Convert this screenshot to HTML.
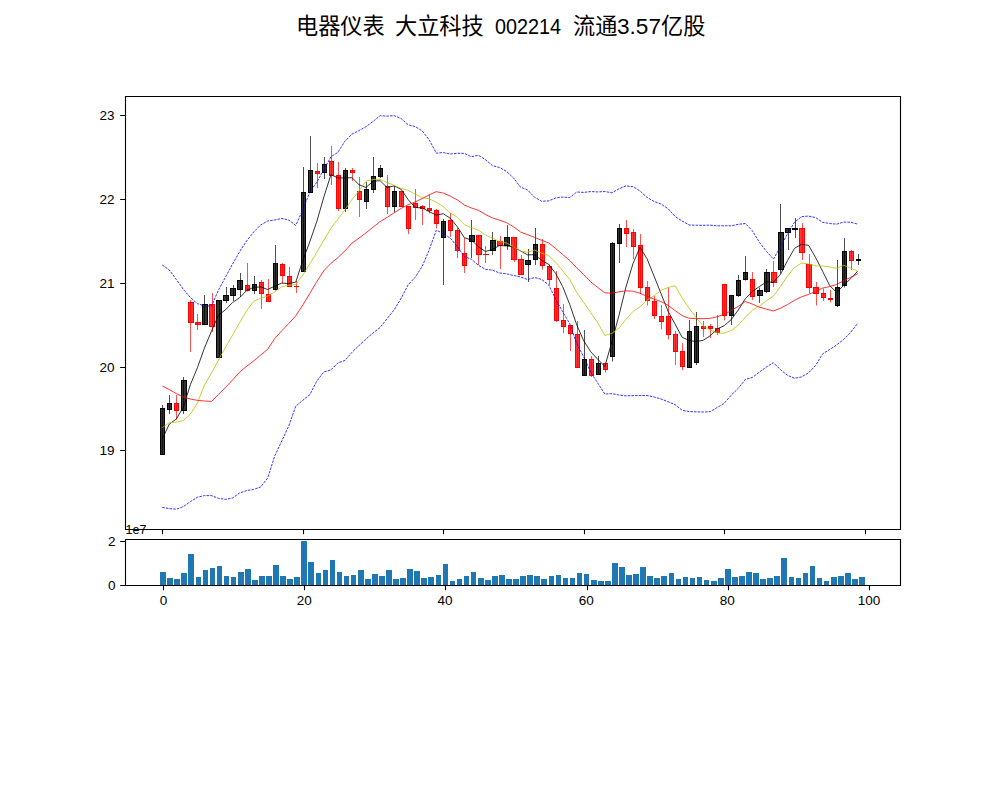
<!DOCTYPE html>
<html><head><meta charset="utf-8"><title>chart</title>
<style>html,body{margin:0;padding:0;background:#fff;font-family:"Liberation Sans",sans-serif}svg{display:block}</style></head><body>
<svg width="1000" height="800" viewBox="0 0 1000 800">
<rect width="1000" height="800" fill="#fff"/>
<g font-family="&quot;Liberation Sans&quot;, &quot;Noto Sans CJK SC&quot;, sans-serif" font-size="22.2" fill="#000">
<text x="296" y="33.9">电器仪表</text>
<text x="395" y="33.9">大立科技</text>
<text x="495" y="33.9" textLength="66" lengthAdjust="spacingAndGlyphs">002214</text>
<text x="573" y="33.9">流通</text>
<text x="617" y="33.9" textLength="44" lengthAdjust="spacingAndGlyphs">3.57</text>
<text x="661" y="33.9">亿股</text>
</g>
<clipPath id="c1"><rect x="125.5" y="96.5" width="775" height="433"/></clipPath>
<g clip-path="url(#c1)">
<g fill-opacity="0.8" stroke-width="1.0"><rect x="160.5" y="408.5" width="4" height="46" fill="#000" stroke="#000"/><rect x="167.5" y="403.5" width="4" height="6" fill="#000" stroke="#000"/><rect x="174.5" y="403.5" width="4" height="7" fill="#f00" stroke="#f00"/><rect x="181.5" y="380.5" width="5" height="30" fill="#000" stroke="#000"/><rect x="188.5" y="302.5" width="5" height="20" fill="#f00" stroke="#f00"/><rect x="195.5" y="322.5" width="5" height="2" fill="#f00" stroke="#f00"/><rect x="202.5" y="304.5" width="5" height="20" fill="#000" stroke="#000"/><rect x="209.5" y="304.5" width="5" height="22" fill="#f00" stroke="#f00"/><rect x="216.5" y="300.5" width="5" height="57" fill="#000" stroke="#000"/><rect x="223.5" y="295.5" width="5" height="5" fill="#000" stroke="#000"/><rect x="230.5" y="288.5" width="5" height="7" fill="#000" stroke="#000"/><rect x="237.5" y="280.5" width="5" height="9" fill="#000" stroke="#000"/><rect x="245.5" y="285.5" width="4" height="5" fill="#f00" stroke="#f00"/><rect x="252.5" y="284.5" width="4" height="6" fill="#000" stroke="#000"/><rect x="259.5" y="282.5" width="4" height="11" fill="#f00" stroke="#f00"/><rect x="266.5" y="294.5" width="4" height="7" fill="#f00" stroke="#f00"/><rect x="273.5" y="263.5" width="4" height="26" fill="#000" stroke="#000"/><rect x="280.5" y="264.5" width="4" height="11" fill="#f00" stroke="#f00"/><rect x="287.5" y="276.5" width="4" height="10" fill="#f00" stroke="#f00"/><rect x="294.5" y="286.5" width="4" height="0.02" fill="#f00" stroke="#f00"/><rect x="301.5" y="192.5" width="4" height="79" fill="#000" stroke="#000"/><rect x="308.5" y="170.5" width="4" height="22" fill="#000" stroke="#000"/><rect x="315.5" y="171.5" width="4" height="2" fill="#f00" stroke="#f00"/><rect x="322.5" y="164.5" width="4" height="8" fill="#000" stroke="#000"/><rect x="329.5" y="161.5" width="4" height="14" fill="#f00" stroke="#f00"/><rect x="336.5" y="175.5" width="4" height="33" fill="#f00" stroke="#f00"/><rect x="343.5" y="170.5" width="4" height="38" fill="#000" stroke="#000"/><rect x="350.5" y="170.5" width="4" height="2" fill="#f00" stroke="#f00"/><rect x="357.5" y="191.5" width="4" height="8" fill="#f00" stroke="#f00"/><rect x="364.5" y="189.5" width="4" height="12" fill="#000" stroke="#000"/><rect x="371.5" y="176.5" width="4" height="13" fill="#000" stroke="#000"/><rect x="378.5" y="168.5" width="4" height="8" fill="#000" stroke="#000"/><rect x="385.5" y="186.5" width="4" height="20" fill="#f00" stroke="#f00"/><rect x="392.5" y="191.5" width="4" height="15" fill="#000" stroke="#000"/><rect x="399.5" y="191.5" width="4" height="15" fill="#f00" stroke="#f00"/><rect x="406.5" y="206.5" width="4" height="22" fill="#f00" stroke="#f00"/><rect x="413.5" y="203.5" width="4" height="4" fill="#f00" stroke="#f00"/><rect x="420.5" y="206.5" width="4" height="2" fill="#f00" stroke="#f00"/><rect x="427.5" y="208.5" width="4" height="2" fill="#f00" stroke="#f00"/><rect x="434.5" y="210.5" width="4" height="13" fill="#f00" stroke="#f00"/><rect x="441.5" y="221.5" width="4" height="16" fill="#000" stroke="#000"/><rect x="448.5" y="220.5" width="4" height="10" fill="#f00" stroke="#f00"/><rect x="455.5" y="230.5" width="4" height="20" fill="#f00" stroke="#f00"/><rect x="462.5" y="253.5" width="4" height="12" fill="#f00" stroke="#f00"/><rect x="469.5" y="235.5" width="5" height="6" fill="#000" stroke="#000"/><rect x="476.5" y="235.5" width="5" height="19" fill="#f00" stroke="#f00"/><rect x="483.5" y="254.5" width="5" height="0.02" fill="#f00" stroke="#f00"/><rect x="490.5" y="240.5" width="5" height="10" fill="#000" stroke="#000"/><rect x="497.5" y="241.5" width="5" height="4" fill="#f00" stroke="#f00"/><rect x="504.5" y="237.5" width="5" height="8" fill="#000" stroke="#000"/><rect x="511.5" y="237.5" width="5" height="22" fill="#f00" stroke="#f00"/><rect x="518.5" y="259.5" width="5" height="15" fill="#f00" stroke="#f00"/><rect x="525.5" y="260.5" width="5" height="4" fill="#000" stroke="#000"/><rect x="533.5" y="244.5" width="4" height="15" fill="#000" stroke="#000"/><rect x="540.5" y="244.5" width="4" height="21" fill="#f00" stroke="#f00"/><rect x="547.5" y="266.5" width="4" height="13" fill="#f00" stroke="#f00"/><rect x="554.5" y="288.5" width="4" height="32" fill="#f00" stroke="#f00"/><rect x="561.5" y="320.5" width="4" height="6" fill="#f00" stroke="#f00"/><rect x="568.5" y="325.5" width="4" height="8" fill="#f00" stroke="#f00"/><rect x="575.5" y="334.5" width="4" height="33" fill="#f00" stroke="#f00"/><rect x="582.5" y="359.5" width="4" height="16" fill="#000" stroke="#000"/><rect x="589.5" y="359.5" width="4" height="16" fill="#f00" stroke="#f00"/><rect x="596.5" y="363.5" width="4" height="11" fill="#000" stroke="#000"/><rect x="603.5" y="363.5" width="4" height="6" fill="#f00" stroke="#f00"/><rect x="610.5" y="243.5" width="4" height="113" fill="#000" stroke="#000"/><rect x="617.5" y="228.5" width="4" height="15" fill="#000" stroke="#000"/><rect x="624.5" y="228.5" width="4" height="5" fill="#f00" stroke="#f00"/><rect x="631.5" y="232.5" width="4" height="14" fill="#f00" stroke="#f00"/><rect x="638.5" y="245.5" width="4" height="42" fill="#f00" stroke="#f00"/><rect x="645.5" y="287.5" width="4" height="13" fill="#f00" stroke="#f00"/><rect x="652.5" y="301.5" width="4" height="14" fill="#f00" stroke="#f00"/><rect x="659.5" y="316.5" width="4" height="5" fill="#f00" stroke="#f00"/><rect x="666.5" y="316.5" width="4" height="18" fill="#f00" stroke="#f00"/><rect x="673.5" y="334.5" width="4" height="17" fill="#f00" stroke="#f00"/><rect x="680.5" y="351.5" width="4" height="15" fill="#f00" stroke="#f00"/><rect x="687.5" y="331.5" width="4" height="36" fill="#000" stroke="#000"/><rect x="694.5" y="326.5" width="4" height="36" fill="#000" stroke="#000"/><rect x="701.5" y="326.5" width="4" height="2" fill="#f00" stroke="#f00"/><rect x="708.5" y="326.5" width="4" height="2" fill="#f00" stroke="#f00"/><rect x="715.5" y="328.5" width="4" height="4" fill="#f00" stroke="#f00"/><rect x="722.5" y="284.5" width="4" height="31" fill="#f00" stroke="#f00"/><rect x="729.5" y="295.5" width="4" height="20" fill="#000" stroke="#000"/><rect x="736.5" y="280.5" width="4" height="15" fill="#000" stroke="#000"/><rect x="743.5" y="272.5" width="4" height="7" fill="#000" stroke="#000"/><rect x="750.5" y="279.5" width="4" height="17" fill="#f00" stroke="#f00"/><rect x="757.5" y="290.5" width="5" height="5" fill="#000" stroke="#000"/><rect x="764.5" y="272.5" width="5" height="19" fill="#000" stroke="#000"/><rect x="771.5" y="272.5" width="5" height="10" fill="#f00" stroke="#f00"/><rect x="778.5" y="232.5" width="5" height="37" fill="#000" stroke="#000"/><rect x="785.5" y="228.5" width="5" height="4" fill="#000" stroke="#000"/><rect x="792.5" y="228.5" width="5" height="1" fill="#000" stroke="#000"/><rect x="799.5" y="228.5" width="5" height="24" fill="#f00" stroke="#f00"/><rect x="806.5" y="264.5" width="5" height="23" fill="#f00" stroke="#f00"/><rect x="813.5" y="287.5" width="5" height="6" fill="#f00" stroke="#f00"/><rect x="821.5" y="293.5" width="4" height="4" fill="#f00" stroke="#f00"/><rect x="828.5" y="298.5" width="4" height="1" fill="#f00" stroke="#f00"/><rect x="835.5" y="287.5" width="4" height="18" fill="#000" stroke="#000"/><rect x="842.5" y="251.5" width="4" height="34" fill="#000" stroke="#000"/><rect x="849.5" y="251.5" width="4" height="9" fill="#f00" stroke="#f00"/><rect x="856.5" y="259.5" width="4" height="1" fill="#000" stroke="#000"/></g>
<path d="M162.5 405V455M169.5 395V414M183.5 377V414M204.5 295V325M219.5 300V357.5M226.5 287V303M233.5 285V301M240.5 273V297M254.5 276V294M275.5 245V290.5M303.5 167V272M310.5 136V193M324.5 157V179M345.5 168V212M366.5 182V209M373.5 157V193M380.5 165V178M394.5 186V212M443.5 219V285M471.5 220V258M492.5 232V255M507.5 225V250M528.5 249V282M535.5 228V265M584.5 330V375.5M598.5 356V374.5M612.5 242V361.5M619.5 224V263M689.5 320V367.5M696.5 312V365M731.5 295V325M738.5 275V297M745.5 256V280.5M759.5 287.5V303M766.5 269V293M780.5 204V273.5M788.5 228V250M795.5 218V238M837.5 260V307M844.5 238V287.5M858.5 254V265" stroke="#000" stroke-width="0.69" fill="none"/>
<path d="M176.5 395V419.5M190.5 300V352M197.5 314V330M212.5 293V332M247.5 263V291.5M261.5 280V309M268.5 279V301.5M282.5 263V283.5M289.5 267V286.5M296.5 281V293M317.5 163V188M331.5 146V185M338.5 162V211M352.5 168V181M359.5 177V217M387.5 175V214M401.5 191V207M408.5 206V234M415.5 189V220M422.5 205V225M429.5 194.5V213.5M436.5 209V228.5M450.5 213V237M457.5 228V258M464.5 238V273M478.5 235V265M485.5 246V263M500.5 236V269M514.5 237V262M521.5 255V274.5M542.5 239V269.5M549.5 264.5V285M556.5 271V322M563.5 304V333M570.5 325V351M577.5 321V367.5M591.5 356V377M605.5 362.5V372.5M626.5 220V247M633.5 229V259M640.5 234V294M647.5 281V305.5M654.5 296V319M661.5 305V329.5M668.5 287.5V339.5M675.5 331V365M682.5 343V370M703.5 321V337M710.5 324V338M717.5 315V335M724.5 284V320.5M752.5 272V300M773.5 261V287M802.5 223V260M809.5 254V293.5M816.5 282V305.5M823.5 288.5V301M830.5 290V302.5M851.5 250V270" stroke="#f00" stroke-width="0.69" fill="none"/>
<g fill="none" stroke-linejoin="round">
<path d="M162.33 439L169.35 424L176.38 419L183.4 407L190.43 384.5L197.45 367.7L204.48 347.9L211.5 331.1L218.53 315.1L225.55 309.7L232.57 302.5L239.6 297.7L246.62 290.5L253.65 287.3L260.67 286.9L267.7 289.5L274.72 286.1L281.74 283.1L288.77 283.5L295.79 282.1L302.82 260.3L309.84 241.7L316.87 221.3L323.89 196.9L330.92 174.7L337.94 177.9L344.96 177.9L351.99 177.7L359.01 184.7L366.04 187.5L373.06 181.1L380.09 180.7L387.11 187.5L394.14 185.9L401.16 189.3L408.18 199.7L415.21 207.5L422.23 207.9L429.26 211.7L436.28 215.1L443.31 213.7L450.33 218.3L457.35 226.7L464.38 237.7L471.4 240.1L478.43 246.7L485.45 251.5L492.48 249.5L499.5 245.5L506.53 245.9L513.55 246.9L520.57 250.9L527.6 254.9L534.62 254.7L541.65 260.3L548.67 264.3L555.7 273.5L562.72 286.7L569.75 304.5L576.77 324.9L583.79 340.9L590.82 351.9L597.84 359.3L604.87 366.5L611.89 341.7L618.92 315.5L625.94 287.1L632.96 263.7L639.99 247.3L647.01 258.7L654.04 276.1L661.06 293.7L668.09 311.3L675.11 324.1L682.14 337.3L689.16 340.5L696.18 341.5L703.21 340.3L710.23 335.7L717.26 328.9L724.28 325.7L731.31 319.5L738.33 309.9L745.36 298.7L752.38 291.5L759.4 286.5L766.43 281.9L773.45 282.3L780.48 274.3L787.5 260.7L794.53 248.3L801.55 244.3L808.57 245.3L815.6 257.5L822.62 271.3L829.65 285.5L836.67 292.5L843.7 285.3L850.72 278.7L857.75 271.1" stroke="#000" stroke-width="0.8"/>
<path d="M162.33 427.6L169.35 422.6L176.38 422.2L183.4 420.6L190.43 414L197.45 403L204.48 385L211.5 373L218.53 360L225.55 347.1L232.57 335.1L239.6 322.8L246.62 310.8L253.65 301.2L260.67 298.3L267.7 296L274.72 291.9L281.74 286.8L288.77 285.4L295.79 284.5L302.82 274.9L309.84 263.9L316.87 252.2L323.89 240.2L330.92 228.4L337.94 219.1L344.96 209.8L351.99 199.5L359.01 190.8L366.04 181.1L373.06 179.5L380.09 179.3L387.11 182.6L394.14 185.3L401.16 188.4L408.18 190.4L415.21 194.1L422.23 197.7L429.26 198.8L436.28 202.2L443.31 206.7L450.33 212.9L457.35 217.3L464.38 224.7L471.4 227.6L478.43 230.2L485.45 234.9L492.48 238.1L499.5 241.6L506.53 243L513.55 246.8L520.57 251.2L527.6 252.2L534.62 250.1L541.65 253.1L548.67 255.6L555.7 262.2L562.72 270.8L569.75 279.6L576.77 292.6L583.79 302.6L590.82 312.7L597.84 323L604.87 335.5L611.89 333.3L618.92 328.2L625.94 319.5L632.96 311.5L639.99 306.9L647.01 300.2L654.04 295.8L661.06 290.4L668.09 287.5L675.11 285.7L682.14 298L689.16 308.3L696.18 317.6L703.21 325.8L710.23 329.9L717.26 333.1L724.28 333.1L731.31 330.5L738.33 325.1L745.36 317.2L752.38 310.2L759.4 306.1L766.43 300.7L773.45 296.1L780.48 286.5L787.5 276.1L794.53 267.4L801.55 263.1L808.57 263.8L815.6 265.9L822.62 266L829.65 266.9L836.67 268.4L843.7 265.3L850.72 268.1L857.75 271.2" stroke="#bfbf00" stroke-width="0.8"/>
<path d="M162.33 386L169.35 389.6L176.38 393.6L183.4 397L190.43 399L197.45 400.4L204.48 401L211.5 401.4L218.53 394.4L225.55 387.3L232.57 380L239.6 372.1L246.62 366.3L253.65 361L260.67 355L267.7 349.3L274.72 338.5L281.74 330.8L288.77 323.5L295.79 315.8L302.82 305L309.84 293.35L316.87 281.5L323.89 270.7L330.92 263.35L337.94 257.55L344.96 250.85L351.99 243.15L359.01 238.1L366.04 232.8L373.06 227.2L380.09 221.6L387.11 217.4L394.14 212.75L401.16 208.4L408.18 204.75L415.21 201.95L422.23 198.6L429.26 194.8L436.28 191.65L443.31 193.1L450.33 196.1L457.35 199.95L464.38 205L471.4 208L478.43 210.3L485.45 214.5L492.48 217.9L499.5 220.2L506.53 222.6L513.55 226.75L520.57 232.05L527.6 234.75L534.62 237.4L541.65 240.35L548.67 242.9L555.7 248.55L562.72 254.45L569.75 260.6L576.77 267.8L583.79 274.7L590.82 281.95L597.84 287.6L604.87 292.8L611.89 293.2L618.92 291.9L625.94 290.85L632.96 291.15L639.99 293.25L647.01 296.4L654.04 299.2L661.06 301.55L668.09 305.25L675.11 310.6L682.14 315.65L689.16 318.25L696.18 318.55L703.21 318.65L710.23 318.4L717.26 316.65L724.28 314.45L731.31 310.45L738.33 306.3L745.36 301.45L752.38 304.1L759.4 307.2L766.43 309.15L773.45 310.95L780.48 308.2L787.5 304.6L794.53 300.25L801.55 296.8L808.57 294.45L815.6 291.55L822.62 288.1L829.65 286.5L836.67 284.55L843.7 280.7L850.72 277.3L857.75 273.65" stroke="#f00" stroke-width="0.8"/>
<path d="M162.33 265L169.35 270L176.38 279.6L183.4 289.4L190.43 297.6L197.45 303.6L204.48 306L211.5 306L218.53 290L225.55 277L232.57 264L239.6 251.6L246.62 241L253.65 232L260.67 225L267.7 221L274.72 220L281.74 218.4L288.77 220L295.79 225.43L302.82 209.75L309.84 192.04L316.87 182.07L323.89 169.46L330.92 156.84L337.94 152.23L344.96 141.22L351.99 134.05L359.01 130.64L366.04 126.62L373.06 121.42L380.09 115.71L387.11 116.12L394.14 115.66L401.16 118.53L408.18 124.83L415.21 126.58L422.23 130.94L429.26 139.83L436.28 153.17L443.31 152.57L450.33 154.03L457.35 153.24L464.38 153.39L471.4 156.76L478.43 155.29L485.45 159.65L492.48 165.66L499.5 167.46L506.53 171.43L513.55 178L520.57 187.15L527.6 189.97L534.62 197.28L541.65 201.27L548.67 200.86L555.7 197.89L562.72 197.06L569.75 197.54L576.77 192.01L583.79 192.4L590.82 191.56L597.84 191.96L604.87 191.52L611.89 192.77L618.92 188.83L625.94 185.85L632.96 186.7L639.99 190.94L647.01 197.39L654.04 201.43L661.06 204.07L668.09 208.76L675.11 216.48L682.14 221.04L689.16 224.97L696.18 225.22L703.21 225.28L710.23 225.16L717.26 225.83L724.28 225.72L731.31 225.87L738.33 224.32L745.36 223.47L752.38 230.8L759.4 242.29L766.43 251.33L773.45 259.19L780.48 246.7L787.5 233.84L794.53 222.24L801.55 216.67L808.57 216.07L815.6 217.57L822.62 222.33L829.65 223.48L836.67 224.17L843.7 222.07L850.72 222.23L857.75 224.15" stroke="#00f" stroke-width="0.8" stroke-dasharray="2.57 1.11"/>
<path d="M162.33 507.4L169.35 508.6L176.38 509.2L183.4 506.6L190.43 501.6L197.45 497.2L204.48 495.6L211.5 495.6L218.53 498.4L225.55 499.4L232.57 498L239.6 493L246.62 490.6L253.65 489.4L260.67 487L267.7 478L274.72 456L281.74 441L288.77 426L295.79 406.17L302.82 400.25L309.84 394.66L316.87 380.93L323.89 371.94L330.92 369.86L337.94 362.87L344.96 360.48L351.99 352.25L359.01 345.56L366.04 338.98L373.06 332.98L380.09 327.49L387.11 318.68L394.14 309.84L401.16 298.27L408.18 284.67L415.21 277.32L422.23 266.26L429.26 249.77L436.28 230.13L443.31 233.63L450.33 238.17L457.35 246.66L464.38 256.61L471.4 259.24L478.43 265.31L485.45 269.35L492.48 270.14L499.5 272.94L506.53 273.77L513.55 275.5L520.57 276.95L527.6 279.53L534.62 277.52L541.65 279.43L548.67 284.94L555.7 299.21L562.72 311.84L569.75 323.66L576.77 343.59L583.79 357L590.82 372.34L597.84 383.24L604.87 394.08L611.89 393.63L618.92 394.97L625.94 395.85L632.96 395.6L639.99 395.56L647.01 395.41L654.04 396.97L661.06 399.03L668.09 401.74L675.11 404.72L682.14 410.26L689.16 411.53L696.18 411.88L703.21 412.02L710.23 411.64L717.26 407.47L724.28 403.18L731.31 395.03L738.33 388.28L745.36 379.43L752.38 377.4L759.4 372.11L766.43 366.97L773.45 362.71L780.48 369.7L787.5 375.36L794.53 378.26L801.55 376.93L808.57 372.83L815.6 365.53L822.62 353.87L829.65 349.52L836.67 344.93L843.7 339.33L850.72 332.37L857.75 323.15" stroke="#00f" stroke-width="0.8" stroke-dasharray="2.57 1.11"/>
</g>
</g>
<path fill="#1f77b4" d="M160 572h6V585.5h-6zM167 578h6V585.5h-6zM174 579h6V585.5h-6zM181 573h6V585.5h-6zM188 554h6V585.5h-6zM196 577h5V585.5h-5zM203 570h5V585.5h-5zM210 568h5V585.5h-5zM217 566h5V585.5h-5zM224 576h5V585.5h-5zM231 577h5V585.5h-5zM238 572h6V585.5h-6zM245 569h6V585.5h-6zM252 580h6V585.5h-6zM259 576h6V585.5h-6zM266 576h6V585.5h-6zM273 565h6V585.5h-6zM280 576h6V585.5h-6zM287 579h6V585.5h-6zM294 577h6V585.5h-6zM301 541h6V585.5h-6zM308 562h6V585.5h-6zM316 573h5V585.5h-5zM323 570h5V585.5h-5zM330 560h5V585.5h-5zM337 572h5V585.5h-5zM344 576h5V585.5h-5zM351 575h5V585.5h-5zM358 570h6V585.5h-6zM365 579h6V585.5h-6zM372 574h6V585.5h-6zM379 576h6V585.5h-6zM386 570h6V585.5h-6zM393 579h6V585.5h-6zM400 578h6V585.5h-6zM407 569h6V585.5h-6zM414 571h6V585.5h-6zM421 578h6V585.5h-6zM428 577h6V585.5h-6zM436 575h5V585.5h-5zM443 564h5V585.5h-5zM450 581h5V585.5h-5zM457 579h5V585.5h-5zM464 576h5V585.5h-5zM471 572h5V585.5h-5zM478 578h6V585.5h-6zM485 580h6V585.5h-6zM492 576h6V585.5h-6zM499 575h6V585.5h-6zM506 579h6V585.5h-6zM513 579h6V585.5h-6zM520 576h6V585.5h-6zM527 575h6V585.5h-6zM534 576h6V585.5h-6zM541 579h6V585.5h-6zM549 576h5V585.5h-5zM556 575h5V585.5h-5zM563 578h5V585.5h-5zM570 578h5V585.5h-5zM577 573h5V585.5h-5zM584 574h5V585.5h-5zM591 580h6V585.5h-6zM598 581h6V585.5h-6zM605 581h6V585.5h-6zM612 563h6V585.5h-6zM619 567h6V585.5h-6zM626 575h6V585.5h-6zM633 574h6V585.5h-6zM640 567h6V585.5h-6zM647 576h6V585.5h-6zM654 578h6V585.5h-6zM661 576h6V585.5h-6zM669 573h5V585.5h-5zM676 579h5V585.5h-5zM683 577h5V585.5h-5zM690 578h5V585.5h-5zM697 577h5V585.5h-5zM704 580h5V585.5h-5zM711 581h6V585.5h-6zM718 578h6V585.5h-6zM725 569h6V585.5h-6zM732 577h6V585.5h-6zM739 576h6V585.5h-6zM746 572h6V585.5h-6zM753 573h6V585.5h-6zM760 579h6V585.5h-6zM767 578h6V585.5h-6zM774 576h6V585.5h-6zM781 558h6V585.5h-6zM789 577h5V585.5h-5zM796 578h5V585.5h-5zM803 573h5V585.5h-5zM810 566h5V585.5h-5zM817 578h5V585.5h-5zM824 581h5V585.5h-5zM831 577h6V585.5h-6zM838 576h6V585.5h-6zM845 573h6V585.5h-6zM852 579h6V585.5h-6zM859 577h6V585.5h-6z"/>
<path d="M125.5 96.5H900.5V529.5H125.5ZM125.5 539.5H900.5V585.5H125.5Z" fill="none" stroke="#000" stroke-width="1.11" stroke-linejoin="miter"/>
<path d="M125 115.5h-4.86M125 199.5h-4.86M125 283.5h-4.86M125 367.5h-4.86M125 450.5h-4.86M162.5 529.5v4.86M163.5 585.5v4.86M303.5 529.5v4.86M304.5 585.5v4.86M443.5 529.5v4.86M445.5 585.5v4.86M584.5 529.5v4.86M587.5 585.5v4.86M724.5 529.5v4.86M728.5 585.5v4.86M865.5 529.5v4.86M869.5 585.5v4.86M125 541.5h-4.86M125 585.5h-4.86" fill="none" stroke="#000" stroke-width="1.11"/>
<g font-family="&quot;Liberation Sans&quot;, sans-serif" font-size="13.5" fill="#000">
<g text-anchor="end">
<text x="114.5" y="120">23</text>
<text x="114.5" y="204">22</text>
<text x="114.5" y="288">21</text>
<text x="114.5" y="372">20</text>
<text x="114.5" y="455">19</text>
<text x="115.5" y="546">2</text>
<text x="115.5" y="590">0</text>
</g>
<g text-anchor="middle">
<text x="163.4" y="605">0</text>
<text x="304.3" y="605">20</text>
<text x="445.1" y="605">40</text>
<text x="586.3" y="605">60</text>
<text x="727.2" y="605">80</text>
<text x="869" y="605">100</text>
</g>
<text x="125.5" y="534" font-size="12.5">1e7</text>
</g>
</svg></body></html>
